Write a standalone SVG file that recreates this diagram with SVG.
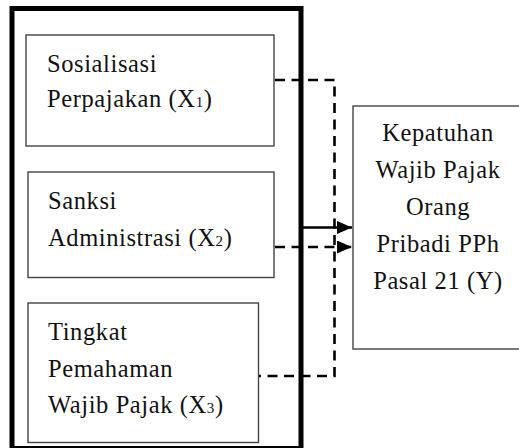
<svg xmlns="http://www.w3.org/2000/svg" width="519" height="448" viewBox="0 0 519 448">
<style>
.frame{fill:none;stroke:#000;stroke-width:5}
.box{fill:#fff;stroke:#444;stroke-width:1.4}
.t{font-family:'Liberation Serif','Times New Roman',serif;font-size:24.5px;letter-spacing:0.6px;fill:#111}
.c{text-anchor:middle}
.sub{font-size:15px}
.dash{fill:none;stroke:#000;stroke-width:2.6;stroke-dasharray:10 6.5}
.solid{fill:none;stroke:#000;stroke-width:2.6}
</style>
<defs>
<marker id="ah" markerUnits="userSpaceOnUse" markerWidth="15" markerHeight="13" refX="15" refY="6.5" orient="auto">
<path d="M0,0 L15,6.5 L0,13 Z" fill="#000"/>
</marker>
</defs>
<rect id="frame" class="frame" x="12" y="8.5" width="289" height="440"/>
<g id="x1">
<rect class="box" x="26" y="35" width="248" height="111"/>
<text class="t" x="47" y="72">Sosialisasi</text>
<text class="t" x="47" y="107">Perpajakan (X<tspan class="sub">1</tspan>)</text>
</g>
<g id="x2">
<rect class="box" x="28" y="172" width="246" height="105.5"/>
<text class="t" x="48" y="208.5">Sanksi</text>
<text class="t" x="48" y="245.5">Administrasi (X<tspan class="sub">2</tspan>)</text>
</g>
<g id="x3">
<rect class="box" x="28" y="303" width="230.5" height="139.5"/>
<text class="t" x="48" y="340">Tingkat</text>
<text class="t" x="48" y="376.5">Pemahaman</text>
<text class="t" x="48" y="413">Wajib Pajak (X<tspan class="sub">3</tspan>)</text>
</g>
<g id="y">
<rect class="box" x="353" y="106" width="175" height="243"/>
<text class="t c" x="438" y="141">Kepatuhan</text>
<text class="t c" x="438" y="178">Wajib Pajak</text>
<text class="t c" x="438" y="214.5">Orang</text>
<text class="t c" x="438" y="251.5">Pribadi PPh</text>
<text class="t c" x="438" y="289">Pasal 21 (Y)</text>
</g>
<g id="connectors">
<path class="dash" d="M275,80 H334.5 V376 H259"/>
<path class="dash" d="M275,247 H352" marker-end="url(#ah)"/>
<path class="solid" d="M301,227.5 H352" marker-end="url(#ah)"/>
</g>
</svg>
